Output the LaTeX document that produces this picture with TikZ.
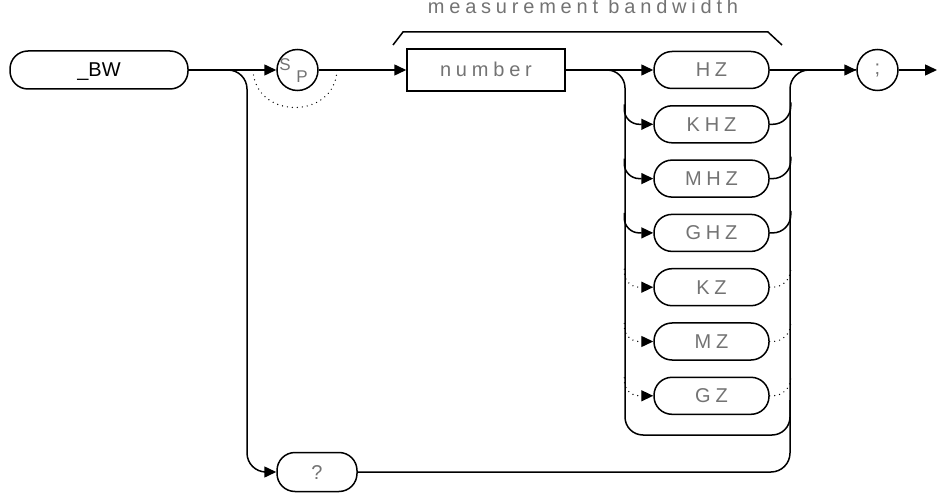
\documentclass[tikz,border=0pt]{standalone}
\usepackage{fontspec}
\setmainfont{Liberation Sans}
\newfontfamily\hpfont[LetterSpace=24]{Liberation Sans}
\usetikzlibrary{arrows.meta}
\definecolor{txtgray}{gray}{0.45}
\tikzset{
  arr/.style={-{Triangle[length=12pt,width=11pt]}},
  dots/.style={line width=1.4pt, dash pattern=on 0pt off 5pt, line cap=round},
  hptext/.style={font=\hpfont\fontsize{20}{22}\selectfont, text=txtgray},
  opt/.style={draw, hptext, rounded corners=18pt, minimum width=115pt, minimum height=37pt,
              inner sep=0pt, text height=14pt, text depth=0pt},
  bwbox/.style={draw, rounded corners=18pt, minimum width=178pt, minimum height=38pt,
              inner sep=0pt, text height=14pt, text depth=0pt, font=\fontsize{20}{22}\selectfont},
  numbox/.style={draw, hptext, minimum width=158pt, minimum height=42pt, inner sep=0pt,
              text height=14pt, text depth=0pt},
  qbox/.style={draw, hptext, rounded corners=18pt, minimum width=80pt, minimum height=39pt,
              inner sep=0pt, text height=14pt, text depth=0pt},
  circ/.style={draw, circle, minimum size=41pt, inner sep=0pt},
  lbl/.style={hptext, inner sep=0pt}
}
\begin{document}
\begin{tikzpicture}[x=1pt,y=-1pt,line width=1.5pt]
\useasboundingbox (0,0) rectangle (937,494);
% nodes
\node[bwbox] (bw) at (99,70) {\_BW};
\node[circ] (sp) at (297.5,70) {};
\node[lbl, font=\hpfont\fontsize{17}{19}\selectfont] (spS) at (285,65) {S};
\node[lbl, font=\hpfont\fontsize{17}{19}\selectfont] (spP) at (302,77) {P};
\node[numbox] (num) at (486,70) {number};
\node[opt] (hz)  at (711.5,70)    {HZ};
\node[opt] (khz) at (711.5,124.3) {KHZ};
\node[opt] (mhz) at (711.5,178.6) {MHZ};
\node[opt] (ghz) at (711.5,232.9) {GHZ};
\node[opt] (kz)  at (711.5,287.2) {KZ};
\node[opt] (mz)  at (711.5,341.5) {MZ};
\node[opt] (gz)  at (711.5,395.8) {GZ};
\node[qbox] (q) at (317,472) {?};
\node[circ, hptext] (semi) at (877.5,70) {;};
\coordinate (out) at (937,70);
\node[lbl, anchor=base] (meas) at (583,14) {measurement bandwidth};
% brace
\draw (393,45) -- (403,32) -- (768,32) -- (782,45);
% main path
\draw[arr] (bw.east) -- (sp.west);
\draw[arr, rounded corners=19pt] (bw.east) -- (247,70) -- (247,472) -- (q.west);
\coordinate (byA) at (253,70);
\coordinate (byB) at (337,70);
\draw[dots] (byA) .. controls (255,120) and (335,120) .. (byB);
\draw[arr] (sp.east) -- (num.west);
\draw[arr] (num.east) -- (hz.west);
\draw[arr] (hz.east) -- (semi.west);
\draw[arr] (semi.east) -- (out);
% rails
\draw[rounded corners=18pt] (num.east) -- (625,70) -- (625,435) -- (790,435) -- (790,400);
\draw[rounded corners=19pt] (q.east) -- (790,472) -- (790,70) -- (semi.west);
% solid branches
\foreach \n in {khz,mhz,ghz}{
  \draw[arr, rounded corners=15pt] (\n.west) ++(-29,-20) -- ++(0,20) -- (\n.west);
  \draw[rounded corners=18pt] (\n.east) -- ++(21,0) -- ++(0,-22);
}
% dotted branches
\foreach \n in {kz,mz,gz}{
  \draw[arr, dots, rounded corners=15pt] (\n.west) ++(-29,-18) -- ++(0,18) -- (\n.west);
  \draw[dots, rounded corners=18pt] (\n.east) -- ++(21,0) -- ++(0,-20);
}
\end{tikzpicture}
\end{document}
